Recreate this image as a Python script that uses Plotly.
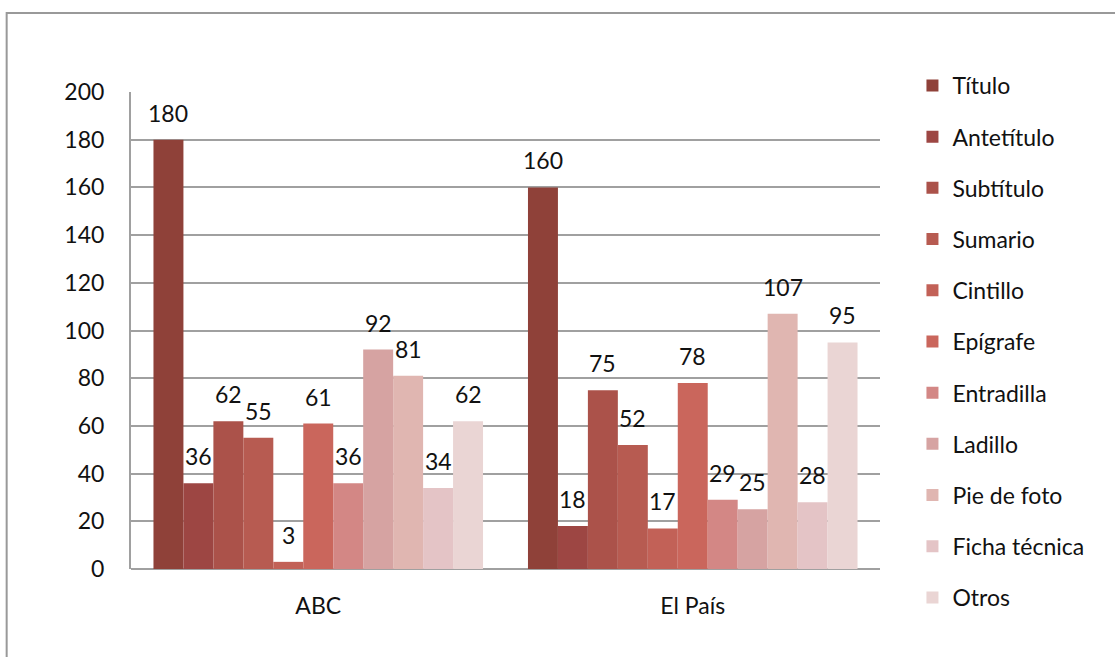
import plotly.graph_objects as go

# Newspapers compared
categories = ["ABC", "El País"]

# Headline/text element types (legend order)
series_names = [
    "Título", "Antetítulo", "Subtítulo", "Sumario", "Cintillo", "Epígrafe",
    "Entradilla", "Ladillo", "Pie de foto", "Ficha técnica", "Otros",
]

# Counts per element type: [ABC, El País]
titulo = [180, 160]
antetitulo = [36, 18]
subtitulo = [62, 75]
sumario = [55, 52]
cintillo = [3, 17]
epigrafe = [61, 78]
entradilla = [36, 29]
ladillo = [92, 25]
pie_de_foto = [81, 107]
ficha_tecnica = [34, 28]
otros = [62, 95]

series_values = [
    titulo, antetitulo, subtitulo, sumario, cintillo, epigrafe,
    entradilla, ladillo, pie_de_foto, ficha_tecnica, otros,
]

colors = [
    "#8F4139", "#9D4643", "#AB524A", "#B75B51", "#C26157", "#CA665C",
    "#D38785", "#D6A3A2", "#E0B6B1", "#E4C4C6", "#EAD5D4",
]

y_ticks = [0, 20, 40, 60, 80, 100, 120, 140, 160, 180, 200]

FONT = "Lato"
FSIZE = 23
W, H = 1115, 657
L, R, T, B = 130.5, 880.5, 92, 569
BARGAP = 0.12

fig = go.Figure()
for name, vals, col in zip(series_names, series_values, colors):
    fig.add_trace(go.Bar(
        name=name,
        x=categories,
        y=vals,
        marker=dict(color=col, line=dict(width=0)),
        legendgroup=name,
    ))

# value labels, centred over each bar and lifted above its top
n = len(series_names)
slot = (1 - BARGAP) / n
annotations = []
for i, vals in enumerate(series_values):
    for c, v in enumerate(vals):
        xpos = c - (1 - BARGAP) / 2 + slot * (i + 0.5)
        annotations.append(dict(
            x=xpos, y=v, xref="x", yref="y",
            text=str(v), showarrow=False,
            xanchor="center", yanchor="middle", yshift=27,
            font=dict(family=FONT, size=FSIZE, color="#111111"),
        ))

# outer chart frame (pixel positions converted to paper coordinates)
def px_x(p):
    return (p - L) / (R - L)

def px_y(p):
    return (B - p) / (B - T)

fig.add_shape(
    type="rect", xref="paper", yref="paper",
    x0=px_x(6), x1=px_x(1130), y0=px_y(670), y1=px_y(13),
    line=dict(color="#999999", width=2), fillcolor="rgba(0,0,0,0)", layer="below",
)

fig.update_layout(
    width=W, height=H,
    margin=dict(l=L, r=W - R, t=T, b=H - B, pad=0),
    paper_bgcolor="white",
    plot_bgcolor="white",
    barmode="group",
    bargap=BARGAP,
    bargroupgap=0,
    annotations=annotations,
    font=dict(family=FONT, size=FSIZE, color="#111111"),
    showlegend=True,
    legend=dict(
        x=px_x(913), xanchor="left",
        y=px_y(64), yanchor="top",
        traceorder="grouped",
        tracegroupgap=18.3,
        maxheight=1,
        font=dict(family=FONT, size=FSIZE, color="#111111"),
        bgcolor="rgba(0,0,0,0)",
    ),
    xaxis=dict(
        range=[-0.5, 1.5],
        showgrid=False,
        showline=False,
        ticks="",
        ticklabelstandoff=21,
        tickfont=dict(family=FONT, size=FSIZE, color="#111111"),
    ),
    yaxis=dict(
        range=[0, 200],
        tickvals=y_ticks,
        showgrid=True,
        gridcolor="#A0A0A0",
        gridwidth=2,
        zeroline=True,
        zerolinecolor="#A0A0A0",
        zerolinewidth=2,
        showline=True,
        linecolor="#A0A0A0",
        linewidth=2,
        ticks="",
        ticklabelstandoff=20,
        tickfont=dict(family=FONT, size=FSIZE, color="#111111"),
    ),
)

fig.write_html("out.html")
